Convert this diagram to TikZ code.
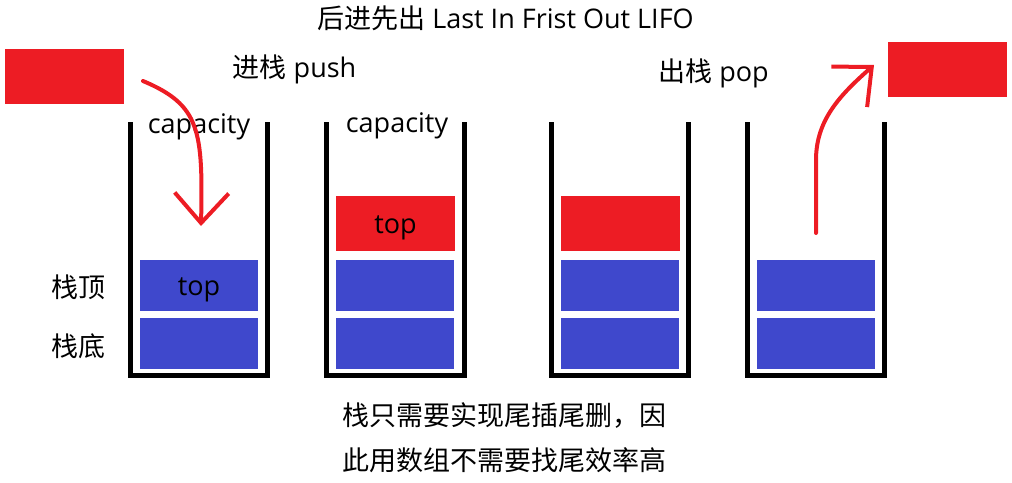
\documentclass[tikz,border=0pt]{standalone}
\usepackage{fontspec}
\setmainfont{Open Sans}
\newfontfamily\cjk{Noto Sans CJK SC}
\usepackage{tikz}
\usetikzlibrary{arrows.meta, positioning}
\definecolor{StackRed}{HTML}{ED1C24}
\definecolor{StackBlue}{HTML}{3F48CC}

\begin{document}
\begin{tikzpicture}[
  x=0.5pt, y=-0.5pt,
  every node/.style={font=\fontsize{13.5pt}{16pt}\selectfont, inner sep=0pt},
  lbl/.style={anchor=base},
  redblk/.style={fill=StackRed, minimum width=59.5pt, minimum height=27.5pt, text height=9.5pt, text depth=0pt},
  blueblk/.style={fill=StackBlue, minimum width=59pt, minimum height=25.5pt, text height=9.5pt, text depth=0pt},
  wall/.style={line width=2.5pt},
  movearrow/.style={-{Straight Barb[length=15pt, width=27pt]}, line width=2pt, StackRed, line cap=round}
  ]
  \useasboundingbox (0,0) rectangle (1012,482);
  % Titles
  \node[lbl] (title) at (505.5,28) {{\cjk 后进先出} Last In Frist Out LIFO};
  \node[lbl] (pushlbl) at (294.5,77) {{\cjk 进栈} push};
  \node[lbl] (poplbl) at (713.5,81) {{\cjk 出栈} pop};
  % Stack 1
  \draw[wall] (130.5,122) -- (130.5,375.5) -- (267.5,375.5) -- (267.5,122);
  \node[lbl] (capA) at (199,133) {capacity};
  \node[blueblk] (a1) at (199,343.5) {};
  \node[blueblk] (a2) at (199,285.5) {top};
  % Stack 2
  \draw[wall] (326.5,122) -- (326.5,375.5) -- (464,375.5) -- (464,122);
  \node[lbl] (capB) at (397,132) {capacity};
  \node[blueblk] (b1) at (395,343.5) {};
  \node[blueblk] (b2) at (395,285.5) {};
  \node[redblk] (b3) at (395.5,223.5) {top};
  % Stack 3
  \draw[wall] (551.5,122) -- (551.5,375.5) -- (688.5,375.5) -- (688.5,122);
  \node[blueblk] (c1) at (620,343.5) {};
  \node[blueblk] (c2) at (620,285.5) {};
  \node[redblk] (c3) at (620.5,223.5) {};
  % Stack 4
  \draw[wall] (747.5,122) -- (747.5,375.5) -- (884.5,375.5) -- (884.5,122);
  \node[blueblk] (d1) at (816,343.5) {};
  \node[blueblk] (d2) at (816,285.5) {};
  % Side labels
  \node[lbl] (toplbl) at (78,297) {\cjk 栈顶};
  \node[lbl] (bottomlbl) at (78,356) {\cjk 栈底};
  % Moving elements
  \node[redblk] (newblk) at (64.5,76.5) {};
  \node[redblk] (oldblk) at (947.5,69.5) {};
  \coordinate (pushfrom) at (143,81);
  \coordinate (pushto) at (201,226);
  \draw[movearrow] (pushfrom) .. controls (200,105) and (203,130) .. (pushto);
  \coordinate (popfrom) at (816,233);
  \coordinate (popto) at (874,65);
  \draw[movearrow] (popfrom) -- (816,160) .. controls (816,120) and (840,95) .. (popto);
  % Note
  \node[lbl] (note1) at (504.5,425) {\cjk 栈只需要实现尾插尾删，因};
  \node[lbl] (note2) at (504.5,470) {\cjk 此用数组不需要找尾效率高};
\end{tikzpicture}
\end{document}
